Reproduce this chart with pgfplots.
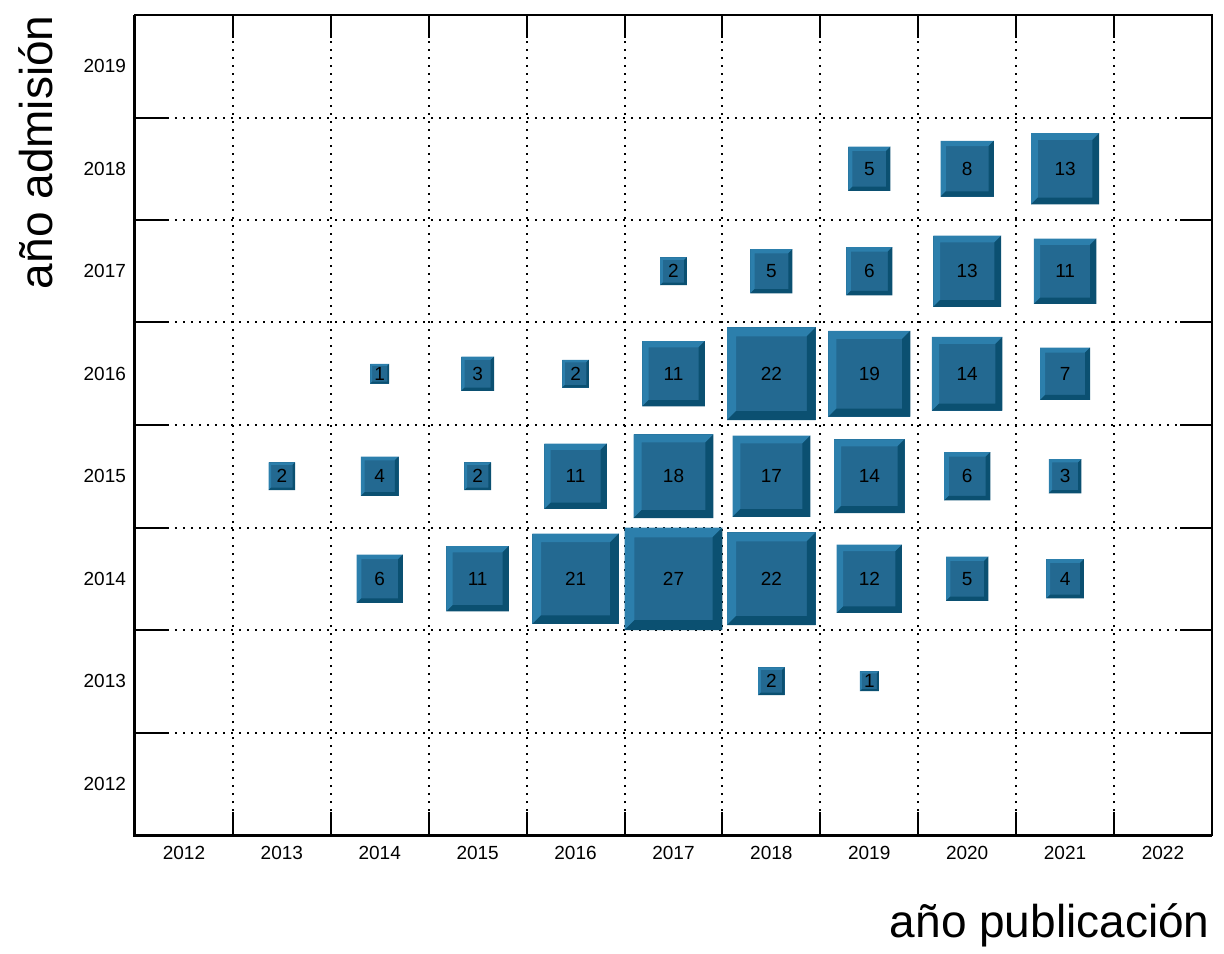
\documentclass[border=0pt]{standalone}
\usepackage{fontspec}
\setmainfont{Liberation Sans}
\usepackage{pgfplots}
\pgfplotsset{compat=1.18}
\usepackage{pgfplotstable}
\definecolor{boxlight}{HTML}{2C7FAC}
\definecolor{boxmid}{HTML}{236991}
\definecolor{boxdark}{HTML}{0B5071}
\def\binw{48.95}
\def\binh{51.25}
\pgfdeclareplotmark{bev}{%
  \pgfmathsetmacro\bxa{0.5*\bsz*\binw}%
  \pgfmathsetmacro\bxb{0.5*\bsz*\binh}%
  \pgfmathsetmacro\bxd{0.1*\bsz*\binw}%
  \pgfmathsetmacro\bxai{\bxa-\bxd}%
  \pgfmathsetmacro\bxbi{\bxb-\bxd}%
  \pgfsetfillcolor{boxmid}%
  \pgfpathrectanglecorners{\pgfpoint{-\bxa pt}{-\bxb pt}}{\pgfpoint{\bxa pt}{\bxb pt}}%
  \pgfusepath{fill}%
  \pgfsetfillcolor{boxlight}%
  \pgfpathmoveto{\pgfpoint{-\bxa pt}{-\bxb pt}}%
  \pgfpathlineto{\pgfpoint{-\bxa pt}{\bxb pt}}%
  \pgfpathlineto{\pgfpoint{\bxa pt}{\bxb pt}}%
  \pgfpathlineto{\pgfpoint{\bxai pt}{\bxbi pt}}%
  \pgfpathlineto{\pgfpoint{-\bxai pt}{\bxbi pt}}%
  \pgfpathlineto{\pgfpoint{-\bxai pt}{-\bxbi pt}}%
  \pgfpathclose\pgfusepath{fill}%
  \pgfsetfillcolor{boxdark}%
  \pgfpathmoveto{\pgfpoint{-\bxa pt}{-\bxb pt}}%
  \pgfpathlineto{\pgfpoint{\bxa pt}{-\bxb pt}}%
  \pgfpathlineto{\pgfpoint{\bxa pt}{\bxb pt}}%
  \pgfpathlineto{\pgfpoint{\bxai pt}{\bxbi pt}}%
  \pgfpathlineto{\pgfpoint{\bxai pt}{-\bxbi pt}}%
  \pgfpathlineto{\pgfpoint{-\bxai pt}{-\bxbi pt}}%
  \pgfpathclose\pgfusepath{fill}%
}
\pgfplotstableread{
x y c
2019 2018 5
2020 2018 8
2021 2018 13
2017 2017 2
2018 2017 5
2019 2017 6
2020 2017 13
2021 2017 11
2014 2016 1
2015 2016 3
2016 2016 2
2017 2016 11
2018 2016 22
2019 2016 19
2020 2016 14
2021 2016 7
2013 2015 2
2014 2015 4
2015 2015 2
2016 2015 11
2017 2015 18
2018 2015 17
2019 2015 14
2020 2015 6
2021 2015 3
2014 2014 6
2015 2014 11
2016 2014 21
2017 2014 27
2018 2014 22
2019 2014 12
2020 2014 5
2021 2014 4
2018 2013 2
2019 2013 1
}\datatable
\begin{document}
\begin{tikzpicture}
\begin{axis}[
  scale only axis,
  width=538.5pt, height=410pt,
  xmin=2011.5, xmax=2022.5, ymin=2011.5, ymax=2019.5,
  axis line style={line width=1pt},
  xtick={2012,...,2022}, ytick={2012,...,2019},
  major tick length=0pt,
  minor xtick={2012.5,2013.5,...,2021.5},
  minor tick length=11.5pt,
  minor x tick style={line width=1pt, black},
  extra y ticks={2012.5,2013.5,...,2018.5},
  extra y tick labels={},
  extra y tick style={major tick length=16pt, grid=major, tick style={line width=1pt, black}},
  grid=minor,
  minor grid style={black, line width=1pt, dash pattern=on 1pt off 3pt},
  major grid style={black, line width=1pt, dash pattern=on 1pt off 3pt},
  /pgf/number format/assume math mode=true,
  /pgf/number format/1000 sep={},
  tick label style={font=\fontsize{9.5}{11}\selectfont},
  xticklabel style={yshift=-2pt},
  yticklabel style={xshift=-1pt},
  clip=false,
]
\addplot[scatter, only marks, mark=bev,
  point meta=explicit,
  visualization depends on={sqrt(\thisrow{c}/27) \as \bsz},
  nodes near coords={\pgfmathprintnumber{\pgfplotspointmeta}},
  nodes near coords align={center},
  every node near coord/.append style={anchor=center, text=black, font=\fontsize{9.5}{11}\selectfont, inner sep=0pt},
] table[x=x, y=y, meta=c] {\datatable};
\draw[line width=1.5pt] (rel axis cs:0,1) -- (rel axis cs:0,0) -- (rel axis cs:1,0);
\coordinate (bl) at (rel axis cs:0,0);
\coordinate (tr) at (rel axis cs:1,1);
\node[anchor=base east, font=\fontsize{23}{27}\selectfont, inner sep=0pt] at ([xshift=-1pt, yshift=-51pt]rel axis cs:1,0) {año publicación};
\node[anchor=base east, rotate=90, font=\fontsize{23}{27}\selectfont, inner sep=0pt] at ([xshift=-41pt]rel axis cs:0,1) {año admisión};
\end{axis}
\pgfresetboundingbox
\path ([xshift=-67.5pt, yshift=-59pt]bl) rectangle ([xshift=6pt, yshift=7.5pt]tr);
\end{tikzpicture}
\end{document}
